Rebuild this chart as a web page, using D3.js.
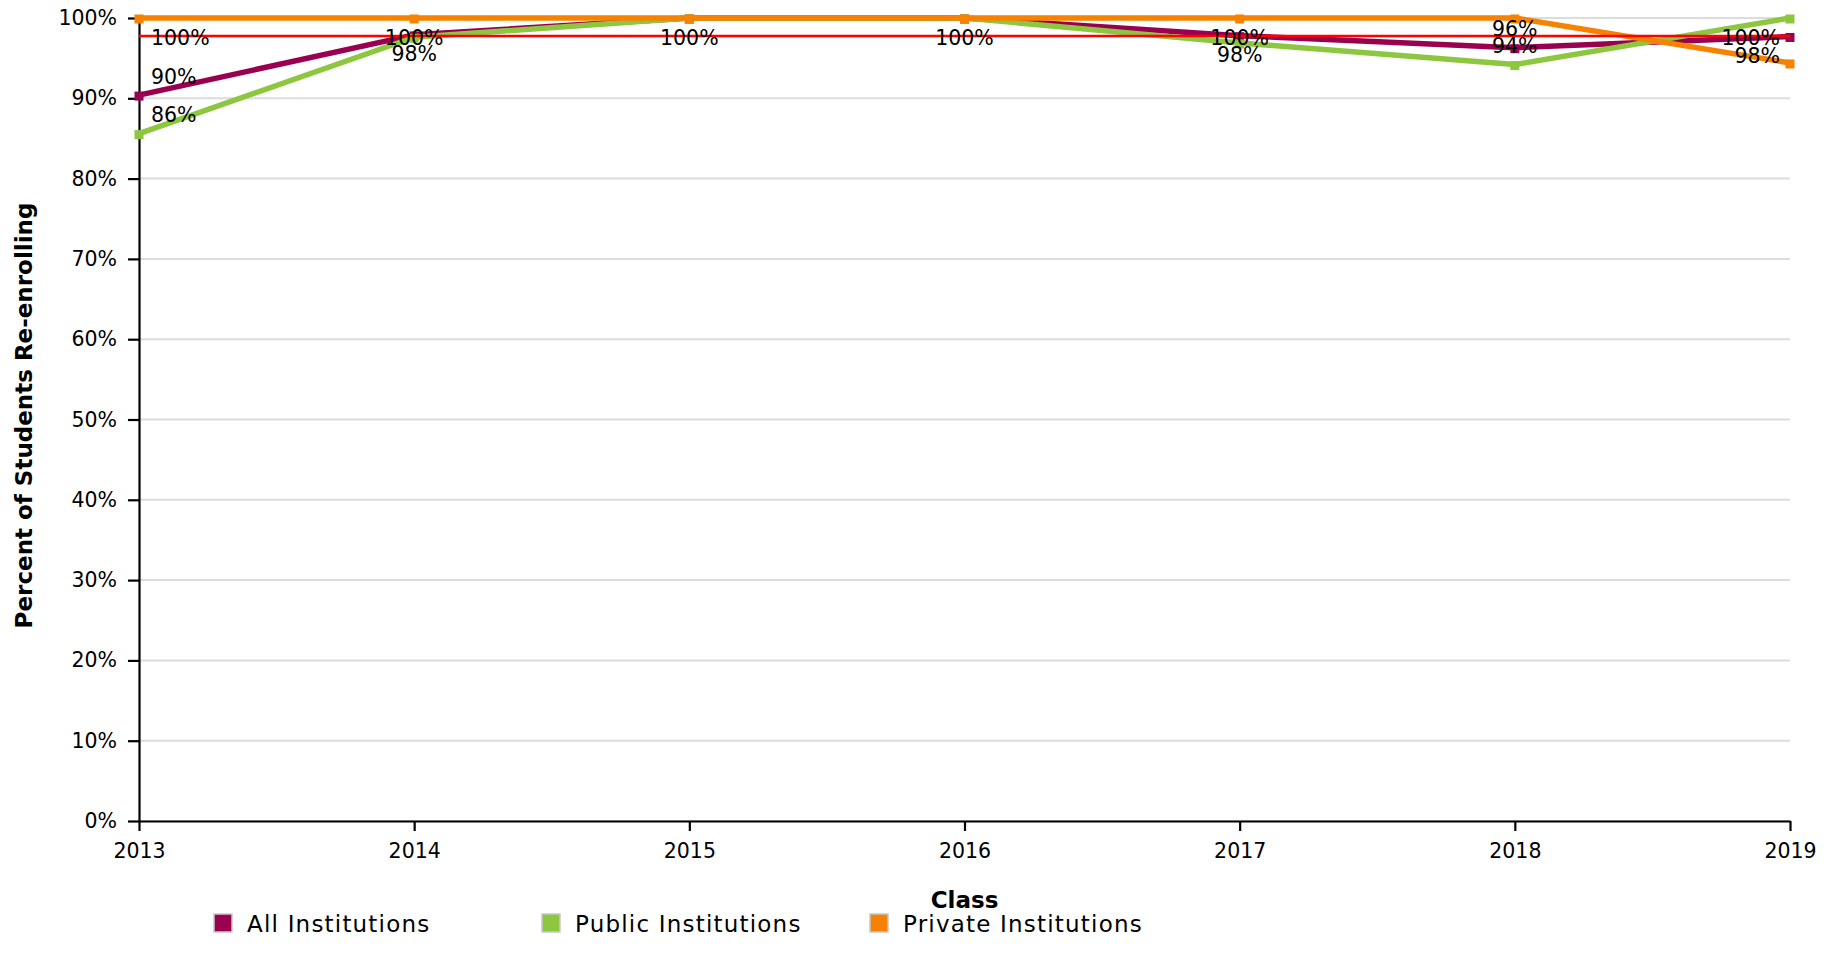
<!DOCTYPE html>
<html><head><meta charset="utf-8">
<script src="https://cdn.jsdelivr.net/npm/d3@7"></script>
<style>body{margin:0;background:#fff} text{font-family:"DejaVu Sans",sans-serif;fill:#000}</style>
</head><body><svg id="c" width="1837" height="972"></svg>
<script>
const years = [2013, 2014, 2015, 2016, 2017, 2018, 2019];
const allInstitutions = [90.4, 97.9, 100, 100, 97.8, 96.3, 97.7];
const publicInstitutions = [85.6, 97.6, 100, 100, 96.9, 94.2, 100];
const privateInstitutions = [100, 100, 100, 100, 100, 100, 94.4];
const seriesNames = ["All Institutions", "Public Institutions", "Private Institutions"];
const seriesColors = ["#990050", "#8dc63f", "#f78100"];
const yTickValues = [0, 10, 20, 30, 40, 50, 60, 70, 80, 90, 100];
const referenceLine = 97.76;
const xTitle = "Class";
const yTitle = "Percent of Students Re-enrolling";

const seriesValues = [allInstitutions, publicInstitutions, privateInstitutions];
const series = seriesNames.map((n, i) => ({name: n, color: seriesColors[i],
  pts: years.map((y, j) => ({year: y, v: seriesValues[i][j]}))}));

const svg = d3.select("#c");
const m = {l: 139, t: 18, r: 47, b: 151};
const W = 1837 - m.l - m.r, H = 972 - m.t - m.b;
const g = svg.append("g").attr("transform", `translate(${m.l},${m.t})`);
const x = d3.scaleLinear().domain([years[0], years[years.length - 1]]).range([0, W]);
const y = d3.scaleLinear().domain([0, 100]).range([H, 0]);

// grid
g.append("g").selectAll("line").data(yTickValues).join("line")
  .attr("x1", 0).attr("x2", W).attr("y1", d => y(d)).attr("y2", d => y(d))
  .attr("stroke", "#dcdcdc").attr("stroke-width", 2);

// axes
const ya = g.append("g").call(d3.axisLeft(y).tickValues(yTickValues).tickFormat(d => d + "%").tickSize(11).tickPadding(11).tickSizeOuter(0));
const xa = g.append("g").attr("transform", `translate(0,${H})`)
  .call(d3.axisBottom(x).tickValues(years).tickFormat(d3.format("d")).tickSize(10).tickPadding(12).tickSizeOuter(0));
[ya, xa].forEach(a => {
  a.selectAll("path,line").attr("stroke", "#000").attr("stroke-width", 2.2);
  a.selectAll("text").attr("font-size", "20.5px").attr("fill", "#000");
});

// lines
const line = d3.line().x(d => x(d.year)).y(d => y(d.v));
series.forEach(s => {
  g.append("path").datum(s.pts).attr("d", line).attr("fill", "none")
    .attr("stroke", s.color).attr("stroke-width", 5.5).attr("stroke-linejoin", "round");
  g.append("g").selectAll("rect").data(s.pts).join("rect")
    .attr("x", d => x(d.year) - 4.5).attr("y", d => y(d.v) - 3.5).attr("width", 9).attr("height", 9)
    .attr("fill", s.color);
});

// reference line
g.append("line").attr("x1", 0).attr("x2", W).attr("y1", y(referenceLine)).attr("y2", y(referenceLine))
  .attr("stroke", "#ff0000").attr("stroke-width", 2.5);

// data labels
const off = 19, halfH = 8, fs = 20.5;
const placed = {};
series.forEach(s => {
  s.pts.forEach(d => {
    const py = y(d.v);
    let cy = py - off;
    if (cy - halfH < 0) cy = py + off;
    const arr = placed[d.year] || (placed[d.year] = []);
    if (arr.some(c => Math.abs(c - cy) < 12)) return;
    arr.push(cy);
    const t = g.append("text").attr("font-size", fs + "px").attr("text-anchor", "start")
      .attr("y", cy + 7.5).text(Math.round(d.v) + "%");
    const w = t.node().getComputedTextLength();
    let lx = x(d.year) - w / 2;
    lx = Math.max(12, Math.min(W - 10 - w, lx));
    t.attr("x", lx);
  });
});

// axis titles
svg.append("text").attr("x", m.l + W / 2).attr("y", 908).attr("text-anchor", "middle")
  .attr("font-size", "23px").attr("font-weight", "bold").text(xTitle);
svg.append("text").attr("transform", `translate(32,${m.t + H / 2 - 4}) rotate(-90)`).attr("text-anchor", "middle")
  .attr("font-size", "23px").attr("font-weight", "bold").text(yTitle);

// legend
const lg = svg.append("g").attr("transform", "translate(214,914)");
seriesNames.forEach((n, i) => {
  const it = lg.append("g").attr("transform", `translate(${i * 328},0)`);
  it.append("rect").attr("width", 18).attr("height", 18).attr("fill", seriesColors[i])
    .attr("stroke", "#c8c8c8").attr("stroke-width", 1.5);
  it.append("text").attr("x", 33).attr("y", 18).attr("font-size", "23px").attr("letter-spacing", "1.2px").text(n);
});
</script></body></html>
